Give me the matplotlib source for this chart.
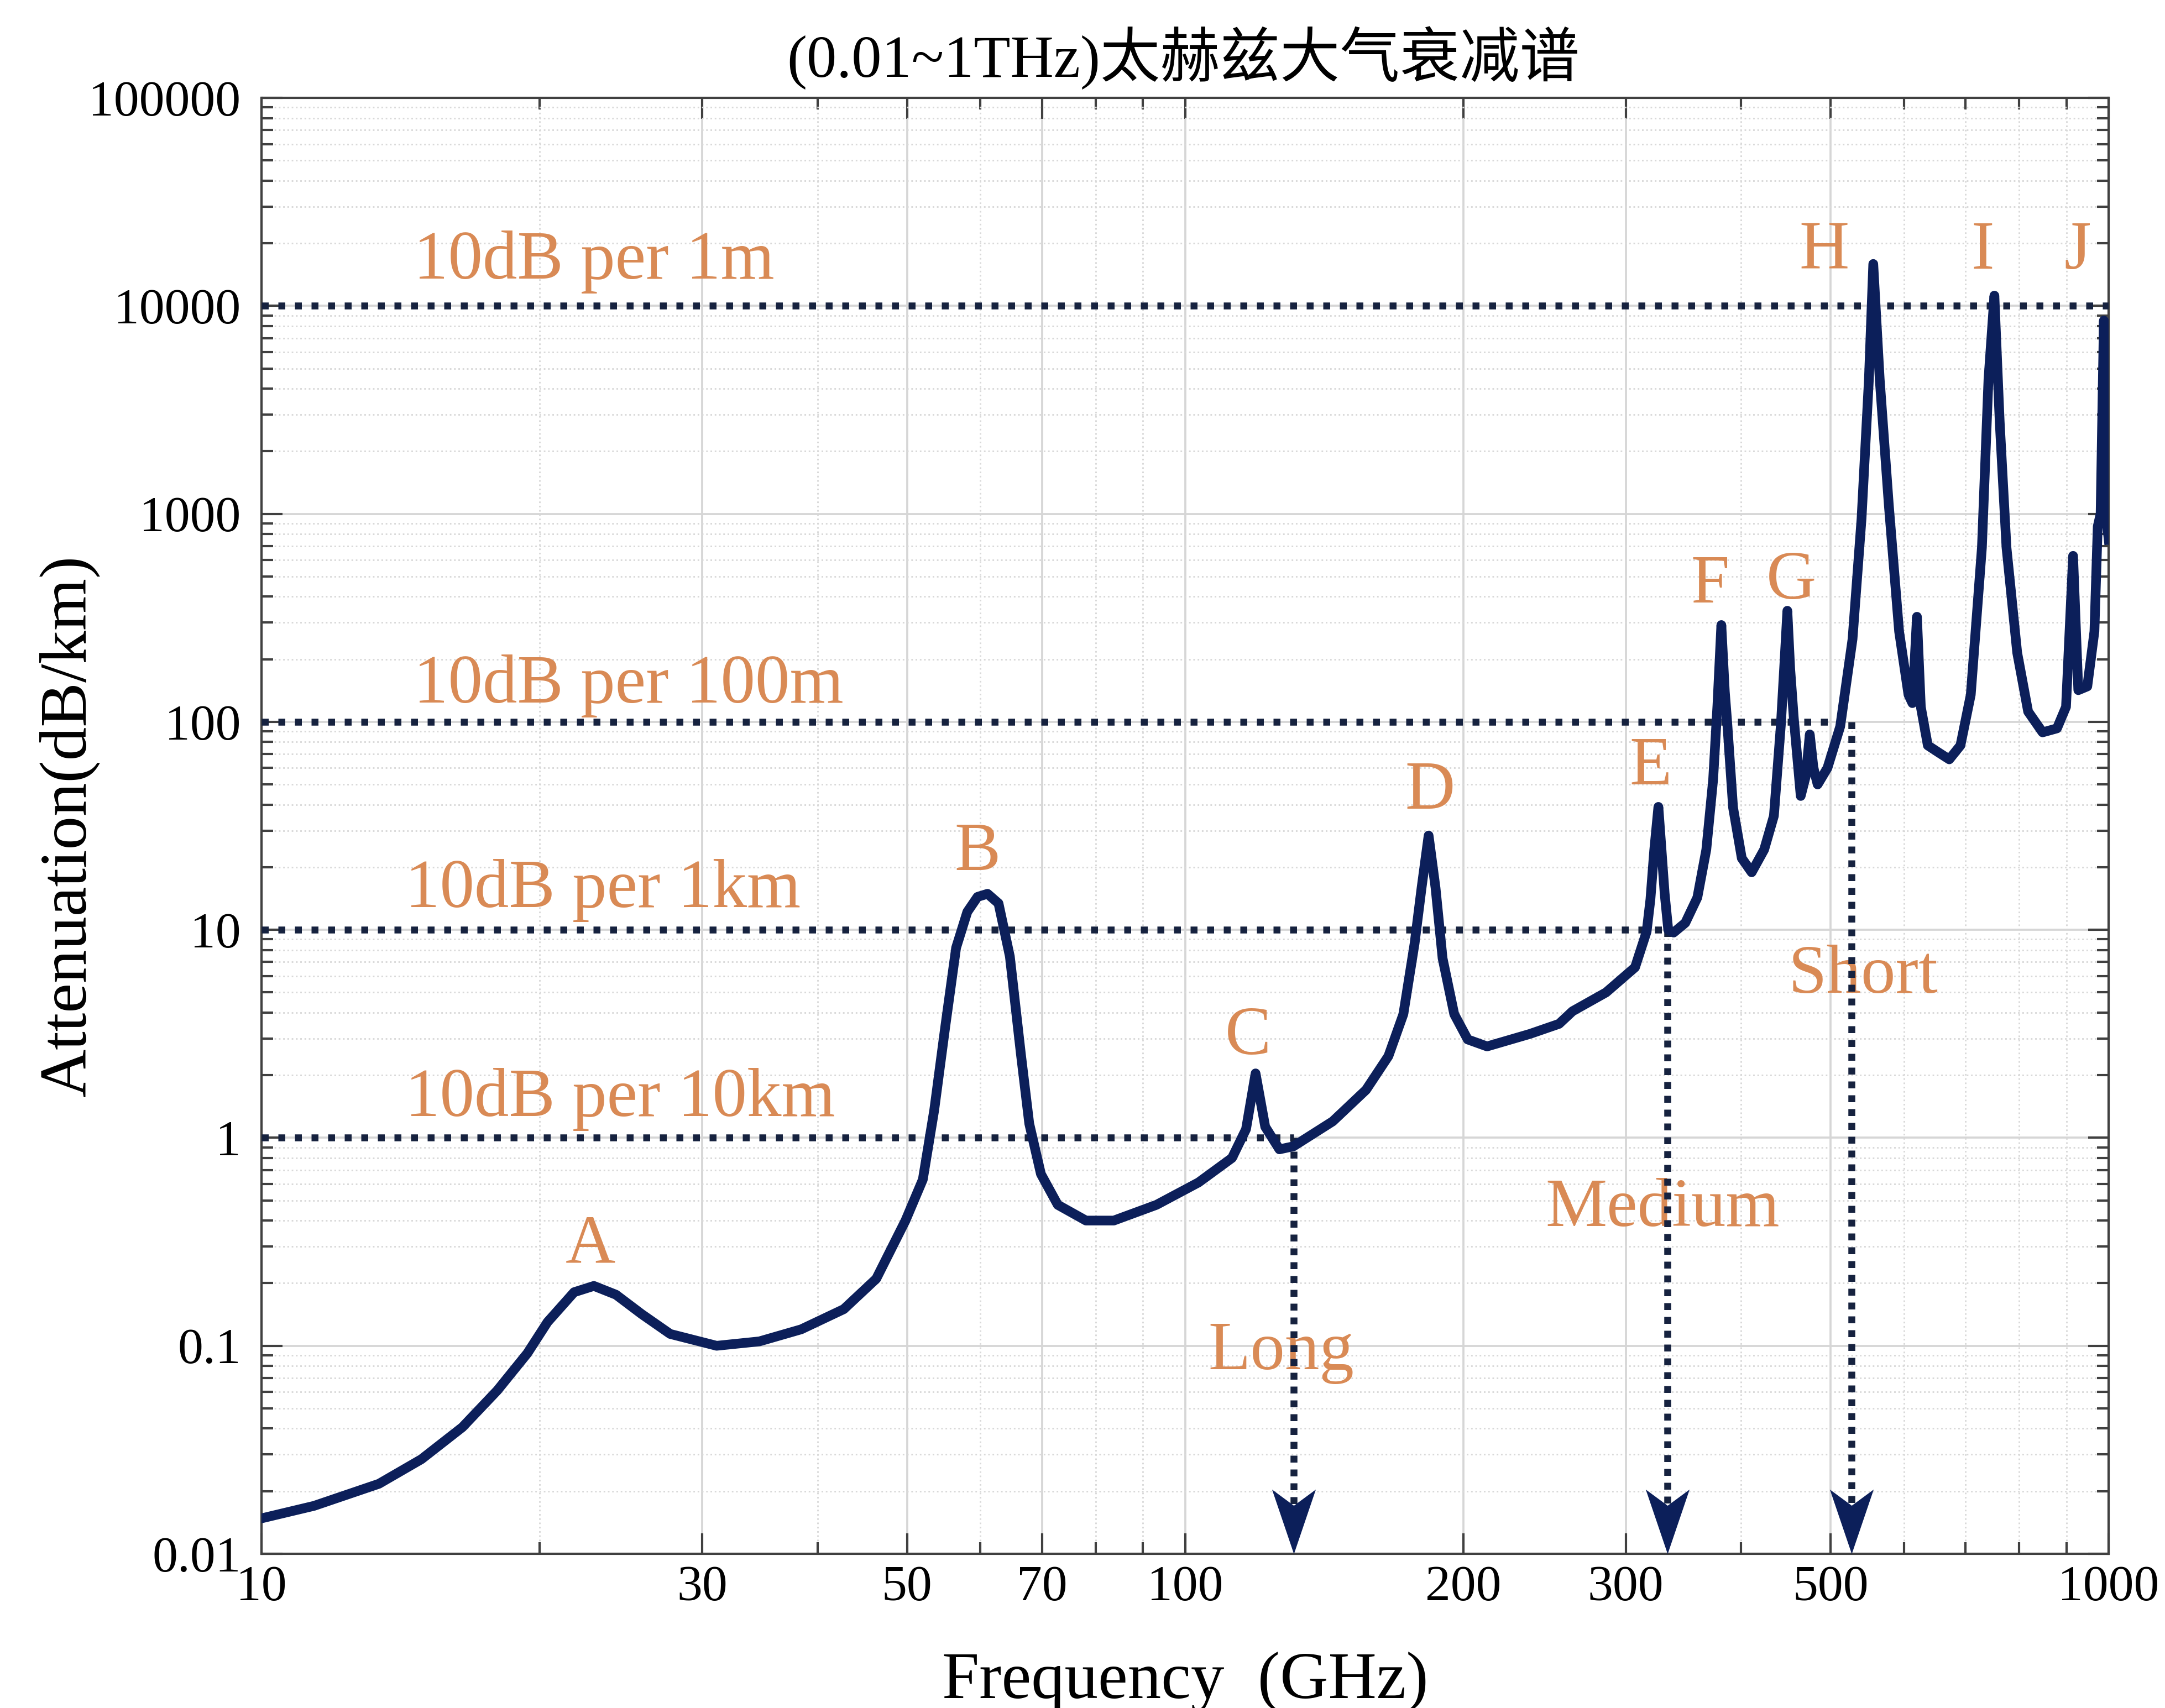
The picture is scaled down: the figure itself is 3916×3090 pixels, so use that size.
import matplotlib.pyplot as plt
from matplotlib.path import Path

plt.rcParams['font.family'] = ['Liberation Serif', 'Noto Sans CJK SC']

# attenuation spectrum (GHz, dB/km)
freq_ghz = [10, 11.4, 13.4, 14.9, 16.5, 18.0, 19.4, 20.4, 21.8, 22.9,
            24.2, 25.8, 27.7, 31.1, 34.6, 38.4, 42.7, 46.3, 49.8, 52.0,
            53.5, 55.0, 56.5, 58.1, 59.6, 61.1, 62.8, 64.6, 66.4, 67.8, 69.8,
            72.8, 78.1, 83.7, 93.1, 103.4, 112.4, 116.4, 119.2, 122.1, 126.5,
            131, 144.5, 157, 166, 172.3, 177.2, 180.3, 183.5, 186.7, 190,
            195.6, 202.3, 212.3, 236.3, 254, 262.7, 285.6, 307, 316, 319,
            322, 325.4, 328, 330.5, 333.5, 338, 348, 358.6, 366.7, 373,
            377, 380.7, 384, 386.4, 392, 400.6, 410.6, 423.6, 434, 441.7,
            445.5, 448.8, 452, 456, 464, 470, 474.6, 479, 484, 496,
            512, 528, 540, 550, 556, 565, 578, 593, 607, 613,
            620, 626, 637, 655, 672, 691, 709, 729, 741, 752,
            762, 775, 796, 818, 848, 879, 899, 915, 927, 948,
            965, 973, 980, 988, 993, 1000]
atten_db_km = [0.0148, 0.017, 0.0217, 0.0285, 0.0406, 0.061, 0.092, 0.13, 0.181, 0.194,
               0.176, 0.142, 0.114, 0.100, 0.105, 0.120, 0.150, 0.21, 0.40, 0.63,
               1.36, 3.44, 8.2, 12.2, 14.4, 14.9, 13.4, 7.45, 2.53, 1.17, 0.67,
               0.476, 0.40, 0.40, 0.476, 0.61, 0.80, 1.1, 2.04, 1.13, 0.88,
               0.91, 1.2, 1.7, 2.47, 3.93, 8.6, 15.9, 28.4, 15.9, 7.3,
               3.93, 2.97, 2.75, 3.16, 3.53, 4.06, 5.0, 6.6, 9.8, 14,
               24, 39, 24, 15, 10, 9.7, 10.8, 14.3, 24.3, 52.8,
               120, 292, 140, 98, 38.7, 22.1, 18.9, 24.3, 35.3, 98,
               190, 342, 180, 105, 44, 55, 87, 60, 50, 60,
               95, 250, 950, 4440, 15900, 4440, 1100, 272, 135, 123,
               320, 118, 77, 71, 66, 77, 135, 690, 4440, 11200,
               2780, 690, 215, 112, 89, 93, 118, 628, 142, 148,
               272, 870, 1000, 8500, 1000, 750]

# dotted reference levels and where each one stops
ref_levels = [1, 10, 100, 10000]
ref_stop_ghz = [131, 333, 527, 1000]
ref_names = ['10dB per 10km', '10dB per 1km', '10dB per 100m', '10dB per 1m']
ref_label_x = [14.3, 14.3, 14.6, 14.6]
ref_label_y = [1.27, 12.9, 124, 13500]

# transmission range arrows
range_ghz = [131, 333, 527]
range_top = [1, 10, 100]
range_names = ['Long', 'Medium', 'Short']
range_label_x = [127, 329, 542]
range_label_y = [0.077, 0.377, 4.97]

# absorption line labels
peak_names = ['A', 'B', 'C', 'D', 'E', 'F', 'G', 'H', 'I', 'J']
peak_label_x = [22.7, 59.6, 117, 184, 319, 370, 453, 492, 730, 925]
peak_label_y = [0.251, 19.4, 2.52, 38.2, 50, 375, 390, 15100, 15100, 15100]

x_ticks = [10, 30, 50, 70, 100, 200, 300, 500, 1000]
x_minor = [20, 40, 60, 80, 90, 400, 600, 700, 800, 900]
y_ticks = [0.01, 0.1, 1, 10, 100, 1000, 10000, 100000]
y_ticklabels = ['0.01', '0.1', '1', '10', '100', '1000', '10000', '100000']

navy = '#0c1f5a'
dot_col = '#16223f'
txt_col = '#d98a55'

fig = plt.figure(figsize=(3916 / 300, 3090 / 300), dpi=300)
ax = fig.add_axes([0.1208, 0.0903, 0.8532, 0.8524])
ax.set_xscale('log')
ax.set_yscale('log')
ax.set_xlim(10, 1000)
ax.set_ylim(0.01, 100000)

ax.set_xticks(x_ticks)
ax.set_xticklabels([str(v) for v in x_ticks])
ax.set_xticks(x_minor, minor=True)
ax.set_xticklabels([], minor=True)
ax.set_yticks(y_ticks)
ax.set_yticklabels(y_ticklabels)
ax.yaxis.set_minor_locator(plt.matplotlib.ticker.LogLocator(base=10, subs=range(2, 10)))
ax.yaxis.set_minor_formatter(plt.NullFormatter())

ax.grid(which='major', color='#d6d6d6', lw=0.9, ls='-')
ax.grid(which='minor', color='#d9d9d9', lw=0.7, ls=':')
ax.set_axisbelow(True)
ax.tick_params(which='both', direction='in', top=True, right=True,
               color='#404040', width=1.0)
ax.tick_params(which='major', length=9, labelsize=22)
ax.tick_params(which='minor', length=5)
ax.tick_params(axis='x', pad=5)
ax.tick_params(axis='y', pad=9)
for s in ax.spines.values():
    s.set_color('#404040')
    s.set_linewidth(1.0)

# horizontal dotted levels
for lev, stop in zip(ref_levels, ref_stop_ghz):
    ax.plot([10, stop], [lev, lev], color=dot_col, lw=3.0,
            ls=(0, (1, 1.4)), zorder=3)

# vertical dotted arrows with notched heads
head = Path([(0, 0), (-38, 112), (0, 84), (38, 112), (0, 0)],
            [Path.MOVETO, Path.LINETO, Path.LINETO, Path.LINETO, Path.CLOSEPOLY])
for f, top in zip(range_ghz, range_top):
    ax.plot([f, f], [top, 0.014], color=dot_col, lw=3.0,
            ls=(0, (1, 1.0)), zorder=3)
    ax.plot([f], [0.01], marker=head, ms=56, color=navy, mew=0,
            clip_on=False, zorder=6)

ax.plot(freq_ghz, atten_db_km, color=navy, lw=4.2, zorder=5,
        solid_joinstyle='round')

for name, x, y in zip(ref_names, ref_label_x, ref_label_y):
    ax.text(x, y, name, color=txt_col, fontsize=30, ha='left', va='baseline')
for name, x, y in zip(range_names, range_label_x, range_label_y):
    ax.text(x, y, name, color=txt_col, fontsize=30, ha='center', va='baseline', zorder=2)
for name, x, y in zip(peak_names, peak_label_x, peak_label_y):
    ax.text(x, y, name, color=txt_col, fontsize=30, ha='center', va='baseline')

ax.set_xlabel('Frequency  (GHz)', fontsize=29, va='center')
ax.set_ylabel('Attenuation(dB/km)', fontsize=29, va='center')
ax.xaxis.set_label_coords(0.5, -0.088)
ax.yaxis.set_label_coords(-0.104, 0.5)

fig.text(0.5465, 0.966, '(0.01~1THz)太赫兹大气衰减谱', fontsize=26,
         ha='center', va='center')

fig.savefig('out.png', dpi=300)
plt.close(fig)
